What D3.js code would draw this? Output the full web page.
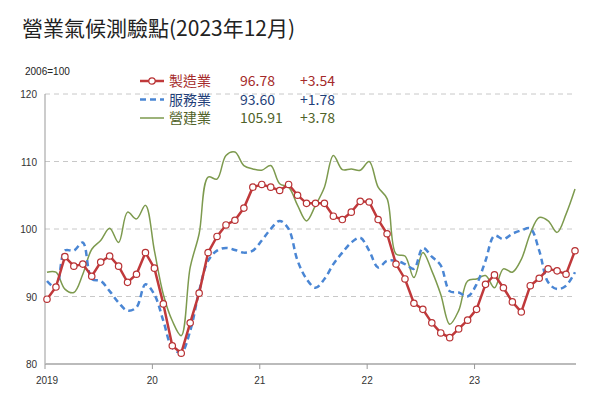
<!DOCTYPE html>
<html><head><meta charset="utf-8">
<script src="https://cdn.jsdelivr.net/npm/d3@7"></script>
<style>body{margin:0;background:#fff;font-family:"Noto Sans CJK TC","Noto Sans",sans-serif}</style>
</head><body><svg id="chart" width="600" height="400"></svg>
<script>
var manufacturing = [89.6,91.4,95.9,94.5,94.8,93.0,95.1,96.0,94.5,92.1,93.3,96.5,
  94.2,88.9,82.7,81.6,86.1,90.5,96.5,98.9,100.6,101.3,103.1,106.2,
  106.6,106.2,105.7,106.6,105.0,103.8,103.8,103.8,101.9,101.4,102.5,104.1,
  104.0,101.4,99.3,94.8,92.6,89.0,88.1,86.1,84.6,83.9,85.2,86.5,
  88.1,91.8,93.2,91.3,89.2,87.7,91.6,92.7,94.1,93.8,93.3,96.78];
var services = [92.3,91.3,96.8,96.8,98.0,92.6,92.3,90.8,89.1,87.9,88.4,91.8,
  90.3,86.4,82.4,81.7,84.9,90.8,95.3,96.8,97.2,96.9,96.5,96.8,
  98.3,100.0,101.2,100.0,95.3,92.6,91.3,92.6,94.8,96.5,98.0,98.7,
  96.8,94.3,95.3,95.3,94.8,94.1,97.2,95.9,94.6,90.8,90.6,90.0,
  91.8,95.3,99.0,98.5,99.3,99.8,100.1,96.8,92.1,91.1,91.6,93.6];
var construction = [93.6,93.6,91.1,90.6,93.3,97.0,98.3,100.1,98.0,102.5,101.5,103.5,
  96.8,90.3,86.4,84.2,94.3,99.3,107.7,107.4,110.9,111.4,109.4,108.9,
  108.7,109.4,106.7,106.2,103.5,101.2,103.5,106.2,110.9,108.8,108.9,108.7,
  110.0,106.2,104.5,96.3,96.0,92.8,96.5,93.8,90.3,85.9,87.9,92.3,
  92.6,93.1,91.3,94.1,93.6,95.5,99.3,101.7,101.2,99.5,102.2,105.91];
var yearLabels = ["2019","20","21","22","23"];
var yTicks = [80,90,100,110,120];
var legendNames = ["製造業","服務業","營建業"];
var legendValues = ["96.78","93.60","105.91"];
var legendChanges = ["+3.54","+1.78","+3.78"];

var svg = d3.select("#chart");
var x = d3.scaleLinear().domain([0, 59]).range([47, 575]);
var y = d3.scaleLinear().domain([80, 120]).range([364, 94]);

svg.append("text").attr("x", 22).attr("y", 36).attr("font-size", 21).attr("fill", "#222")
  .text("營業氣候測驗點(2023年12月)");
svg.append("text").attr("x", 25).attr("y", 75).attr("font-size", 10).attr("fill", "#222")
  .attr("font-family", "Liberation Sans, Arial").text("2006=100");

// grid
svg.append("g").selectAll("line").data(yTicks.slice(1)).enter().append("line")
  .attr("x1", 45).attr("x2", 575).attr("y1", y).attr("y2", y)
  .attr("stroke", "#c8c8c8").attr("stroke-dasharray", "5,4");
svg.append("g").selectAll("text").data(yTicks).enter().append("text")
  .attr("x", 37).attr("y", function(d){ return y(d) + 4; }).attr("text-anchor", "end")
  .attr("font-size", 10).attr("fill", "#333").attr("font-family", "Liberation Sans, Arial")
  .text(function(d){ return d; });
svg.append("line").attr("x1", 45).attr("x2", 45).attr("y1", 94).attr("y2", 364).attr("stroke", "#999");
svg.append("line").attr("x1", 45).attr("x2", 576).attr("y1", 364).attr("y2", 364).attr("stroke", "#bbb").attr("stroke-width", 2);
svg.append("g").selectAll("line").data(yearLabels).enter().append("line")
  .attr("x1", function(d, i){ return x(i * 12) - 2; }).attr("x2", function(d, i){ return x(i * 12) - 2; })
  .attr("y1", 364).attr("y2", 369).attr("stroke", "#999");
svg.append("g").selectAll("text").data(yearLabels).enter().append("text")
  .attr("x", function(d, i){ return x(i * 12) - 2 + (i === 0 ? 2 : 0); }).attr("y", 384)
  .attr("text-anchor", "middle").attr("font-size", 10).attr("fill", "#333")
  .attr("font-family", "Liberation Sans, Arial").text(function(d){ return d; });

var smooth = d3.line().x(function(d, i){ return x(i); }).y(function(d){ return y(d); }).curve(d3.curveCatmullRom);
var straight = d3.line().x(function(d, i){ return x(i); }).y(function(d){ return y(d); });

svg.append("path").attr("d", smooth(construction)).attr("fill", "none").attr("stroke", "#7d9a4e").attr("stroke-width", 1.5);
svg.append("path").attr("d", smooth(services)).attr("fill", "none").attr("stroke", "#4a86d4").attr("stroke-width", 2.5).attr("stroke-dasharray", "6,4");
svg.append("path").attr("d", straight(manufacturing)).attr("fill", "none").attr("stroke", "#c0393b").attr("stroke-width", 2.5);
svg.append("g").selectAll("circle").data(manufacturing).enter().append("circle")
  .attr("cx", function(d, i){ return x(i); }).attr("cy", y).attr("r", 3.2)
  .attr("fill", "#fff").attr("stroke", "#b83234").attr("stroke-width", 1.2);

// legend
var lineColors = ["#c0393b", "#4a86d4", "#7d9a4e"];
var textColors = ["#a52a2a", "#1f3f7a", "#4f6228"];
var lg = svg.append("g").selectAll("g").data(legendNames).enter().append("g")
  .attr("transform", function(d, i){ return "translate(140," + (81 + i * 18.5) + ")"; });
lg.append("line").attr("x1", 0).attr("x2", 24).attr("stroke", function(d, i){ return lineColors[i]; })
  .attr("stroke-width", function(d, i){ return i === 2 ? 1.5 : 2.5; })
  .attr("stroke-dasharray", function(d, i){ return i === 1 ? "6,4" : null; });
lg.filter(function(d, i){ return i === 0; }).append("circle").attr("cx", 12).attr("r", 3.2)
  .attr("fill", "#fff").attr("stroke", "#b83234").attr("stroke-width", 1.2);
lg.append("text").attr("x", 29).attr("y", 5).attr("font-size", 14).attr("fill", function(d, i){ return textColors[i]; })
  .text(function(d){ return d; });
lg.append("text").attr("x", 100).attr("y", 5).attr("font-size", 14).attr("fill", function(d, i){ return textColors[i]; })
  .text(function(d, i){ return legendValues[i]; });
lg.append("text").attr("x", 160).attr("y", 5).attr("font-size", 14).attr("fill", function(d, i){ return textColors[i]; })
  .text(function(d, i){ return legendChanges[i]; });
</script></body></html>
